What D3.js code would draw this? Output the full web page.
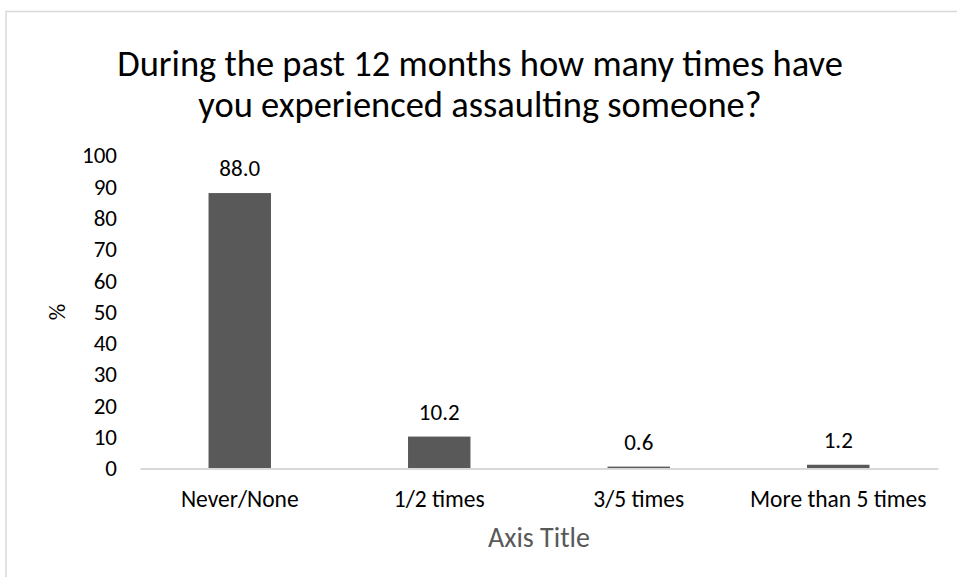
<!DOCTYPE html>
<html>
<head>
<meta charset="utf-8">
<script src="https://cdn.jsdelivr.net/npm/d3@7/dist/d3.min.js"></script>
<style>
  html, body { margin: 0; padding: 0; background: #fff; }
  svg { display: block; }
  text { font-family: Carlito, Calibri, Lato, "Open Sans", sans-serif; }
</style>
</head>
<body>
<svg id="chart" width="957" height="577"></svg>
<script>
// Survey responses: assaults committed in the past 12 months
const categories = ["Never/None", "1/2 times", "3/5 times", "More than 5 times"];
const percentValues = [88.0, 10.2, 0.6, 1.2];
const yTicks = [0, 10, 20, 30, 40, 50, 60, 70, 80, 90, 100];
const titleLines = ["During the past 12 months how many times have", "you experienced assaulting someone?"];
const yAxisLabel = "%";
const xAxisLabel = "Axis Title";

const FONT = "Carlito, Calibri, Lato, 'Open Sans', sans-serif";
const svg = d3.select("#chart");
const W = 957, H = 577;

// Chart frame (runs past the right and bottom edges)
svg.append("rect")
  .attr("x", 6).attr("y", 11.5)
  .attr("width", W + 10).attr("height", H + 10)
  .attr("fill", "#fff").attr("stroke", "#d9d9d9").attr("stroke-width", 1.5);

const plot = { left: 140, right: 938, top: 155.5, bottom: 468.5 };

const x = d3.scaleBand()
  .domain(categories)
  .range([plot.left, plot.right])
  .paddingInner(0).paddingOuter(0);

const y = d3.scaleLinear()
  .domain([0, 100])
  .range([plot.bottom, plot.top]);

const barWidth = x.bandwidth() * 0.313;

// Title
const title = svg.append("text")
  .attr("text-anchor", "middle")
  .attr("font-size", 36.5)
  .attr("fill", "#000");
titleLines.forEach((line, i) => {
  title.append("tspan")
    .attr("x", 480).attr("y", 76 + i * 41)
    .text(line);
});

// Bars
svg.append("g").selectAll("rect")
  .data(percentValues)
  .join("rect")
  .attr("x", (d, i) => x(categories[i]) + (x.bandwidth() - barWidth) / 2)
  .attr("width", barWidth)
  .attr("y", d => y(d))
  .attr("height", d => y(0) - y(d))
  .attr("fill", "#595959");

// Value labels
svg.append("g").selectAll("text")
  .data(percentValues)
  .join("text")
  .attr("x", (d, i) => x(categories[i]) + x.bandwidth() / 2)
  .attr("y", d => y(d) - 17)
  .attr("text-anchor", "middle")
  .attr("font-size", 23)
  .attr("fill", "#000")
  .text(d => d.toFixed(1));

// Y axis (labels only)
const yAxis = d3.axisLeft(y).tickValues(yTicks).tickSize(0).tickPadding(0).tickFormat(d3.format("d"));
const yg = svg.append("g").attr("transform", "translate(117,0)").call(yAxis);
yg.select(".domain").remove();
yg.selectAll("text").attr("font-size", 23).attr("fill", "#000").attr("font-family", FONT);

// X axis
const xAxis = d3.axisBottom(x).tickSize(0).tickPadding(0);
const xg = svg.append("g").attr("transform", `translate(0,${plot.bottom})`).call(xAxis);
xg.select(".domain").attr("stroke", "#d9d9d9").attr("stroke-width", 2);
xg.selectAll("text").attr("font-size", 23.5).attr("fill", "#000").attr("dy", 0).attr("y", 38.5)
  .attr("font-family", FONT);

// Axis titles
svg.append("text")
  .attr("x", (plot.left + plot.right) / 2).attr("y", 547)
  .attr("text-anchor", "middle")
  .attr("font-size", 28)
  .attr("fill", "#595959")
  .text(xAxisLabel);

svg.append("text")
  .attr("transform", `translate(65,312) rotate(-90)`)
  .attr("text-anchor", "middle")
  .attr("font-size", 23)
  .attr("fill", "#000")
  .text(yAxisLabel);
</script>
</body>
</html>
